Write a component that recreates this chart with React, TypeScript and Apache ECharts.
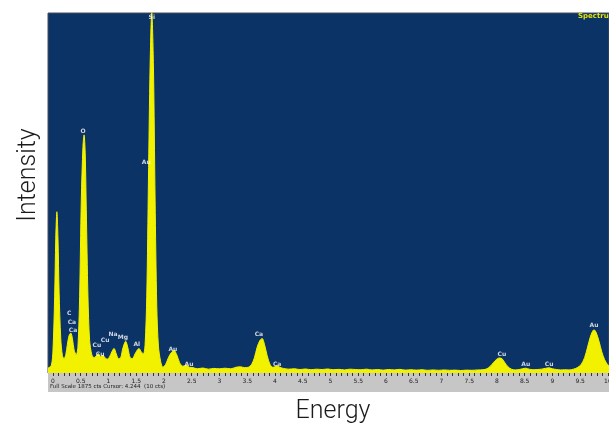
import React, { useEffect, useRef } from "react";
import * as echarts from "echarts";

// Spectrum: [energy keV, counts]
const spectrum: [number, number][] = [
  [-0.09, 25], [-0.03, 40], [0.0, 120], [0.03, 400], [0.05, 700], [0.07, 840], [0.09, 700],
  [0.11, 420], [0.14, 180], [0.17, 90], [0.2, 75], [0.23, 95], [0.26, 150], [0.29, 195],
  [0.32, 208], [0.35, 180], [0.38, 120], [0.42, 95], [0.45, 140], [0.48, 400], [0.51, 900],
  [0.54, 1180], [0.56, 1240], [0.58, 1150], [0.6, 850], [0.63, 400], [0.66, 170], [0.7, 95],
  [0.74, 80], [0.78, 90], [0.82, 100], [0.86, 85], [0.9, 92], [0.94, 78], [0.98, 72],
  [1.02, 85], [1.06, 110], [1.1, 128], [1.14, 100], [1.18, 75], [1.22, 80], [1.26, 130],
  [1.31, 165], [1.35, 130], [1.39, 80], [1.43, 75], [1.48, 100], [1.52, 120], [1.55, 128],
  [1.59, 110], [1.63, 100], [1.66, 150], [1.69, 400], [1.72, 1000], [1.75, 1600], [1.78, 1880],
  [1.81, 1600], [1.84, 900], [1.87, 350], [1.9, 140], [1.94, 60], [1.98, 30], [2.03, 45],
  [2.08, 80], [2.13, 105], [2.18, 118], [2.23, 95], [2.28, 55], [2.34, 35], [2.4, 40],
  [2.46, 30], [2.52, 28], [2.6, 22], [2.7, 26], [2.8, 20], [2.9, 24], [3.0, 22], [3.1, 25],
  [3.2, 22], [3.3, 30], [3.38, 32], [3.45, 28], [3.52, 30], [3.58, 45], [3.63, 80],
  [3.68, 135], [3.73, 170], [3.77, 180], [3.81, 150], [3.86, 90], [3.91, 45], [3.96, 30],
  [4.0, 32], [4.04, 38], [4.09, 30], [4.15, 24], [4.25, 20], [4.35, 22], [4.45, 18],
  [4.55, 21], [4.65, 17], [4.75, 20], [4.85, 18], [4.95, 21], [5.05, 17], [5.15, 19],
  [5.25, 16], [5.35, 20], [5.45, 18], [5.55, 17], [5.65, 20], [5.75, 16], [5.85, 18],
  [5.95, 15], [6.05, 18], [6.15, 16], [6.25, 19], [6.35, 15], [6.45, 17], [6.55, 15],
  [6.65, 17], [6.75, 14], [6.85, 16], [6.95, 14], [7.05, 16], [7.15, 14], [7.25, 15],
  [7.35, 13], [7.45, 15], [7.55, 14], [7.65, 16], [7.75, 17], [7.82, 22], [7.88, 35],
  [7.94, 55], [7.99, 70], [8.04, 78], [8.09, 75], [8.14, 55], [8.2, 32], [8.26, 20],
  [8.33, 16], [8.4, 18], [8.46, 22], [8.52, 25], [8.58, 20], [8.65, 17], [8.72, 18],
  [8.8, 20], [8.87, 24], [8.94, 27], [9.0, 22], [9.08, 18], [9.15, 16], [9.22, 17],
  [9.3, 16], [9.38, 20], [9.45, 28], [9.52, 45], [9.58, 80], [9.63, 130], [9.68, 185],
  [9.72, 215], [9.75, 225], [9.79, 210], [9.84, 165], [9.89, 110], [9.94, 70], [9.99, 45],
  [10.02, 38],
];

// Peak labels: [energy keV, counts, element]
const peakLabels: [number, number, string][] = [
  [1.78, 1855, "Si"], [1.68, 1099, "Au"], [0.54, 1261, "O"], [0.29, 313, "C"],
  [0.34, 266, "Ca"], [0.36, 229, "Ca"], [0.79, 146, "Cu"], [0.94, 172, "Cu"],
  [0.85, 104, "Cu"], [1.08, 208, "Na"], [1.26, 188, "Mg"], [1.51, 156, "Al"],
  [2.16, 130, "Au"], [2.45, 47, "Au"], [3.71, 208, "Ca"], [4.04, 52, "Ca"],
  [8.09, 104, "Cu"], [8.52, 47, "Au"], [8.94, 52, "Cu"], [9.75, 255, "Au"],
];

const tickLabels = [0, 0.5, 1, 1.5, 2, 2.5, 3, 3.5, 4, 4.5, 5, 5.5, 6, 6.5, 7, 7.5, 8, 8.5, 9, 9.5, 10];
const minorTicks = [
  0, 0.1, 0.2, 0.3, 0.4, 0.5, 0.6, 0.7, 0.8, 0.9, 1, 1.1, 1.2, 1.3, 1.4, 1.5, 1.6, 1.7, 1.8, 1.9,
  2, 2.1, 2.2, 2.3, 2.4, 2.5, 2.6, 2.7, 2.8, 2.9, 3, 3.1, 3.2, 3.3, 3.4, 3.5, 3.6, 3.7, 3.8, 3.9,
  4, 4.1, 4.2, 4.3, 4.4, 4.5, 4.6, 4.7, 4.8, 4.9, 5, 5.1, 5.2, 5.3, 5.4, 5.5, 5.6, 5.7, 5.8, 5.9,
  6, 6.1, 6.2, 6.3, 6.4, 6.5, 6.6, 6.7, 6.8, 6.9, 7, 7.1, 7.2, 7.3, 7.4, 7.5, 7.6, 7.7, 7.8, 7.9,
  8, 8.1, 8.2, 8.3, 8.4, 8.5, 8.6, 8.7, 8.8, 8.9, 9, 9.1, 9.2, 9.3, 9.4, 9.5, 9.6, 9.7, 9.8, 9.9, 10,
];

const fullScaleText = "Full Scale 1875 cts Cursor: 4.244  (10 cts)";

export default function App() {
  const ref = useRef<HTMLDivElement>(null);
  useEffect(() => {
    if (!ref.current) return;
    document.body.style.margin = "0";
    document.body.style.overflow = "hidden";
    document.documentElement.style.overflow = "hidden";
    const chart = echarts.init(ref.current, null, { renderer: "svg", width: 609, height: 424 });
    chart.setOption({
      animation: false,
      grid: {
        left: 48, top: 13, width: 561, height: 360,
        outerBoundsMode: "none", containLabel: false,
        show: true, backgroundColor: "#0b3366", borderColor: "#4a4f5a", borderWidth: 1,
      },
      xAxis: {
        type: "value", min: -0.09, max: 10.02, z: 5,
        axisLine: { show: false },
        splitLine: { show: false },
        axisTick: {
          show: true, customValues: minorTicks, length: 3, inside: false,
          lineStyle: { color: "#333", width: 1 },
        },
        axisLabel: {
          customValues: tickLabels, fontSize: 6, color: "#222", margin: 4,
          fontFamily: "DejaVu Sans", showMaxLabel: true, showMinLabel: true,
        },
      },
      yAxis: {
        type: "value", min: 0, max: 1875, show: false, splitLine: { show: false },
      },
      series: [
        {
          type: "line", data: spectrum, showSymbol: false, smooth: 0.3,
          lineStyle: { color: "#f2f200", width: 1 },
          areaStyle: { color: "#f2f200", opacity: 1 },
          z: 2,
        },
        {
          type: "scatter", symbolSize: 0, z: 3,
          data: peakLabels.map((p) => ({ value: [p[0], p[1]], name: p[2] })),
          label: {
            show: true, position: "inside", formatter: "{b}", fontSize: 6,
            color: "#ffffff", fontWeight: "bold", fontFamily: "DejaVu Sans",
          },
        },
      ],
      graphic: [
        { type: "rect", z: 1, shape: { x: 48, y: 373, width: 561, height: 19 }, style: { fill: "#c6c6c6" } },
        {
          type: "text", z: 10, x: 50, y: 386,
          style: { text: fullScaleText, fontSize: 5.5, fill: "#222", fontFamily: "DejaVu Sans", textVerticalAlign: "middle" },
        },
        {
          type: "text", z: 10, x: 578, y: 16,
          style: { text: "Spectrum", fontSize: 7, fontWeight: "bold", fill: "#e6e600", fontFamily: "DejaVu Sans", textVerticalAlign: "middle" },
        },
        {
          type: "text", z: 10, x: 26, y: 175, rotation: Math.PI / 2,
          style: { text: "Intensity", fontSize: 25, fontWeight: 300, fill: "#1a1a1a", fontFamily: "Roboto", textAlign: "center", textVerticalAlign: "middle" },
        },
        {
          type: "text", z: 10, x: 333, y: 409,
          style: { text: "Energy", fontSize: 25, fontWeight: 300, fill: "#1a1a1a", fontFamily: "Roboto", textAlign: "center", textVerticalAlign: "middle" },
        },
      ],
    });
    return () => chart.dispose();
  }, []);
  return <div ref={ref} style={{ position: "fixed", left: 0, top: 0, width: 609, height: 424 }} />;
}
